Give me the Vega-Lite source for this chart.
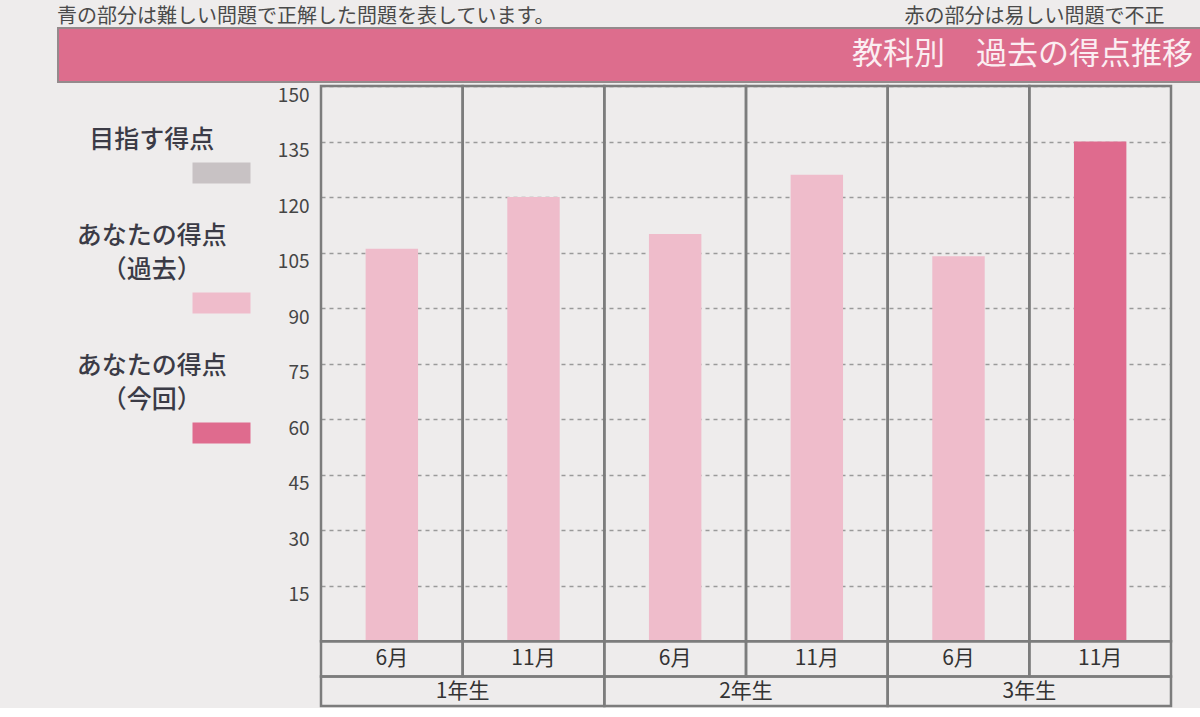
{
  "$schema": "https://vega.github.io/schema/vega-lite/v6.json",
  "background": "#eeecec",
  "padding": {"left": 57, "right": 0, "top": 7, "bottom": 0},
  "title": {
    "text": "　青の部分は難しい問題で正解した問題を表しています。　　　　　　　　　　　　　　　　　　赤の部分は易しい問題で不正",
    "anchor": "start",
    "fontSize": 20,
    "fontWeight": "normal",
    "color": "#4a4a4a",
    "offset": 0
  },
  "datasets": {
    "scores": [
      {"grade": "1年生", "month": "6月", "key": "1年生 6月", "series": "あなたの得点（過去）", "score": 106},
      {"grade": "1年生", "month": "11月", "key": "1年生 11月", "series": "あなたの得点（過去）", "score": 120},
      {"grade": "2年生", "month": "6月", "key": "2年生 6月", "series": "あなたの得点（過去）", "score": 110},
      {"grade": "2年生", "month": "11月", "key": "2年生 11月", "series": "あなたの得点（過去）", "score": 126},
      {"grade": "3年生", "month": "6月", "key": "3年生 6月", "series": "あなたの得点（過去）", "score": 104},
      {"grade": "3年生", "month": "11月", "key": "3年生 11月", "series": "あなたの得点（今回）", "score": 135}
    ],
    "legend": [
      {"series": "目指す得点", "line1": "", "line2": "目指す得点"},
      {"series": "あなたの得点（過去）", "line1": "あなたの得点", "line2": "（過去）"},
      {"series": "あなたの得点（今回）", "line1": "あなたの得点", "line2": "（今回）"}
    ],
    "grades": [
      {"grade": "1年生"},
      {"grade": "2年生"},
      {"grade": "3年生"}
    ]
  },
  "spacing": 1,
  "vconcat": [
    {
      "width": 1143,
      "height": 54,
      "data": {"values": [{"header": "教科別　過去の得点推移"}]},
      "layer": [
        {
          "mark": {"type": "rect", "color": "#dd6d8d", "stroke": "#948a8c", "strokeWidth": 2},
          "encoding": {}
        },
        {
          "mark": {"type": "text", "align": "right", "baseline": "middle", "dx": -8, "fontSize": 31, "color": "#fbeef2"},
          "encoding": {
            "x": {"value": "width"},
            "text": {"field": "header"}
          }
        }
      ]
    },
    {
      "spacing": 0,
      "hconcat": [
        {
          "width": 218,
          "height": 434,
          "data": {"name": "legend"},
          "encoding": {
            "y": {"field": "series", "type": "ordinal", "sort": null, "scale": {"type": "point", "padding": 0.67}, "axis": null}
          },
          "layer": [
            {
              "mark": {"type": "text", "align": "center", "baseline": "middle", "dy": -67, "fontSize": 25, "color": "#3b3b46", "fontWeight": 500},
              "encoding": {
                "x": {"datum": 0.43, "type": "quantitative", "scale": {"domain": [0, 1]}, "axis": null},
                "text": {"field": "line1"}
              }
            },
            {
              "mark": {"type": "text", "align": "center", "baseline": "middle", "dy": -33, "fontSize": 25, "color": "#3b3b46", "fontWeight": 500},
              "encoding": {
                "x": {"datum": 0.43, "type": "quantitative"},
                "text": {"field": "line2"}
              }
            },
            {
              "mark": {"type": "point", "shape": "M-1,-0.36H1V0.36H-1Z", "size": 3364, "filled": true, "opacity": 1},
              "encoding": {
                "x": {"datum": 0.75, "type": "quantitative"},
                "color": {
                  "field": "series",
                  "scale": {"domain": ["目指す得点", "あなたの得点（過去）", "あなたの得点（今回）"], "range": ["#c8c2c4", "#efbccb", "#df6b8e"]},
                  "legend": null
                }
              }
            }
          ]
        },
        {
          "width": 850,
          "height": 620,
          "resolve": {"scale": {"x": "independent"}},
          "layer": [
            {
              "data": {"name": "scores"},
              "encoding": {
                "x": {"field": "key", "type": "ordinal", "sort": null, "scale": {"paddingInner": 0, "paddingOuter": 0}, "axis": null}
              },
              "layer": [
                {
                  "mark": {"type": "bar", "width": {"band": 0.37}},
                  "encoding": {
                    "y": {
                      "field": "score",
                      "type": "quantitative",
                      "scale": {"domain": [-17.5, 150], "nice": false, "zero": false},
                      "axis": {
                        "values": [15, 30, 45, 60, 75, 90, 105, 120, 135, 150],
                        "title": null,
                        "ticks": false,
                        "domain": false,
                        "labelFontSize": 19,
                        "labelColor": "#454545",
                        "labelBaseline": "top",
                        "labelPadding": 12,
                        "minExtent": 45,
                        "maxExtent": 45,
                        "gridDash": [4, 4],
                        "gridColor": "#9a9a9a",
                        "gridWidth": 1.3
                      }
                    },
                    "color": {
                      "field": "series",
                      "scale": {"domain": ["目指す得点", "あなたの得点（過去）", "あなたの得点（今回）"], "range": ["#c8c2c4", "#efbccb", "#df6b8e"]},
                      "legend": null
                    }
                  }
                },
                {
                  "mark": {"type": "rect", "fill": null, "stroke": "#7c7c7c", "strokeWidth": 2.5},
                  "encoding": {
                    "y": {"datum": 0, "type": "quantitative"},
                    "y2": {"datum": 150}
                  }
                },
                {
                  "mark": {"type": "rect", "fill": null, "stroke": "#7c7c7c", "strokeWidth": 2.5},
                  "encoding": {
                    "y": {"datum": -9.5, "type": "quantitative"},
                    "y2": {"datum": 0}
                  }
                },
                {
                  "mark": {"type": "text", "baseline": "middle", "fontSize": 21, "color": "#333333"},
                  "encoding": {
                    "y": {"datum": -4.75, "type": "quantitative"},
                    "text": {"field": "month"}
                  }
                }
              ]
            },
            {
              "data": {"name": "grades"},
              "encoding": {
                "x": {"field": "grade", "type": "ordinal", "sort": null, "scale": {"paddingInner": 0, "paddingOuter": 0}, "axis": null}
              },
              "layer": [
                {
                  "mark": {"type": "rect", "fill": null, "stroke": "#7c7c7c", "strokeWidth": 2.5},
                  "encoding": {
                    "y": {"datum": -17.5, "type": "quantitative"},
                    "y2": {"datum": -9.5}
                  }
                },
                {
                  "mark": {"type": "text", "baseline": "middle", "fontSize": 21, "color": "#333333"},
                  "encoding": {
                    "y": {"datum": -13.6, "type": "quantitative"},
                    "text": {"field": "grade"}
                  }
                }
              ]
            }
          ]
        }
      ]
    }
  ],
  "config": {
    "view": {"stroke": null},
    "font": "Noto Sans CJK JP"
  }
}
